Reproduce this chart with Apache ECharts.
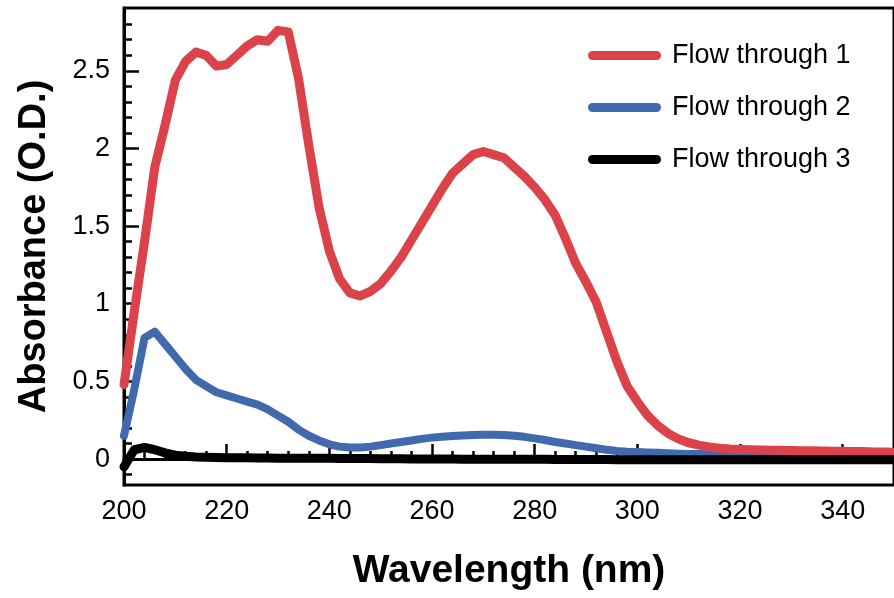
<!DOCTYPE html>
<html>
<head>
<meta charset="utf-8">
<title>Absorbance spectra of flow-through fractions</title>
<script src="https://cdn.jsdelivr.net/npm/echarts@6/dist/echarts.min.js"></script>
<style>
  html, body { margin: 0; padding: 0; background: #ffffff; }
  #chart { width: 894px; height: 598px; }
</style>
</head>
<body>
<div id="chart"></div>
<script>
// Wavelength grid (nm) shared by all three spectra
const wavelengths = [
  200, 202, 204, 206, 208, 210, 212, 214, 216, 218,
  220, 222, 224, 226, 228, 230, 232, 234, 236, 238,
  240, 242, 244, 246, 248, 250, 252, 254, 256, 258,
  260, 262, 264, 266, 268, 270, 272, 274, 276, 278,
  280, 282, 284, 286, 288, 290, 292, 294, 296, 298,
  300, 302, 304, 306, 308, 310, 312, 314, 316, 318,
  320, 322, 324, 326, 328, 330, 332, 334, 336, 338,
  340, 342, 344, 346, 348, 350
];

// Absorbance (O.D.) of each fraction
const flow1 = [
  0.48, 0.95, 1.40, 1.88, 2.15, 2.44, 2.56, 2.62, 2.60, 2.53,
  2.54, 2.60, 2.66, 2.70, 2.69, 2.76, 2.75, 2.45, 2.02, 1.62,
  1.34, 1.16, 1.07, 1.05, 1.08, 1.13, 1.21, 1.30, 1.41, 1.52,
  1.63, 1.74, 1.84, 1.90, 1.96, 1.98, 1.96, 1.94, 1.88, 1.82,
  1.75, 1.67, 1.57, 1.42, 1.26, 1.14, 1.01, 0.82, 0.63, 0.47,
  0.37, 0.28, 0.215, 0.165, 0.13, 0.105, 0.09, 0.078, 0.07, 0.065,
  0.062, 0.060, 0.058, 0.057, 0.056, 0.055, 0.054, 0.053, 0.052, 0.051,
  0.050, 0.049, 0.048, 0.046, 0.045, 0.044
];
const flow2 = [
  0.15, 0.45, 0.78, 0.82, 0.74, 0.66, 0.58, 0.51, 0.47, 0.43,
  0.41, 0.39, 0.37, 0.35, 0.32, 0.28, 0.24, 0.19, 0.15, 0.12,
  0.095, 0.08, 0.075, 0.075, 0.08, 0.09, 0.10, 0.11, 0.12, 0.13,
  0.138, 0.143, 0.148, 0.152, 0.155, 0.157, 0.157, 0.155, 0.15, 0.143,
  0.133, 0.123, 0.11, 0.10, 0.09, 0.08, 0.07, 0.06, 0.052, 0.047,
  0.045, 0.042, 0.040, 0.037, 0.035, 0.033, 0.032, 0.031, 0.030, 0.030,
  0.030, 0.030, 0.030, 0.030, 0.030, 0.030, 0.030, 0.030, 0.030, 0.030,
  0.030, 0.030, 0.030, 0.030, 0.030, 0.030
];
const flow3 = [
  -0.05, 0.06, 0.075, 0.06, 0.04, 0.025, 0.018, 0.014, 0.012, 0.010,
  0.009, 0.008, 0.008, 0.007, 0.007, 0.006, 0.006, 0.006, 0.005, 0.005,
  0.005, 0.004, 0.004, 0.003, 0.003, 0.002, 0.002, 0.002, 0.001, 0.001,
  0.000, 0.000, 0.000, -0.001, -0.001, -0.001, -0.001, -0.002, -0.002, -0.002,
  -0.002, -0.002, -0.003, -0.003, -0.003, -0.003, -0.003, -0.003, -0.004, -0.004,
  -0.004, -0.004, -0.004, -0.004, -0.004, -0.004, -0.005, -0.005, -0.005, -0.005,
  -0.005, -0.005, -0.005, -0.005, -0.005, -0.005, -0.005, -0.005, -0.005, -0.005,
  -0.005, -0.005, -0.005, -0.005, -0.005, -0.005
];

const seriesNames = ['Flow through 1', 'Flow through 2', 'Flow through 3'];
const seriesColors = ['#DB4249', '#4169AD', '#000000'];

// Axis ticks
const xMajorTicks = [200, 220, 240, 260, 280, 300, 320, 340];
const xMinorTicks = [
  204, 208, 212, 216, 224, 228, 232, 236, 244, 248, 252, 256,
  264, 268, 272, 276, 284, 288, 292, 296, 304, 308, 312, 316,
  324, 328, 332, 336, 344, 348
];
const yMajorTicks = [0, 0.5, 1, 1.5, 2, 2.5];
const yMinorTicks = [
  -0.1, 0.1, 0.2, 0.3, 0.4, 0.6, 0.7, 0.8, 0.9, 1.1, 1.2, 1.3, 1.4,
  1.6, 1.7, 1.8, 1.9, 2.1, 2.2, 2.3, 2.4, 2.6, 2.7, 2.8
];

const X_MIN = 200, X_MAX = 350;
const Y_MIN = -0.167, Y_MAX = 2.904;

const FONT = "'Liberation Sans', Arial, Helvetica, sans-serif";
const AXIS_W = 3;
const TICK_W = 2.5;

function pairs(values) {
  return wavelengths.map((w, i) => [w, values[i]]);
}

const chart = echarts.init(document.getElementById('chart'), null, { renderer: 'canvas' });

const option = {
  backgroundColor: '#ffffff',
  animation: false,
  textStyle: { fontFamily: FONT, color: '#000' },
  grid: {
    left: 124, right: -7, top: 8, bottom: 113,
    show: true, borderColor: '#000', borderWidth: AXIS_W, backgroundColor: 'transparent'
  },
  legend: {
    orient: 'vertical',
    left: 583,
    top: 37,
    itemWidth: 73,
    itemHeight: 9,
    itemGap: 25,
    icon: 'path://M4.5,0L68.5,0A4.5,4.5,0,0,1,68.5,9L4.5,9A4.5,4.5,0,0,1,4.5,0Z',
    data: seriesNames,
    textStyle: { fontFamily: FONT, fontSize: 27, color: '#000', padding: [0, 0, 0, 6] }
  },
  xAxis: [
    {
      type: 'value', min: X_MIN, max: X_MAX, position: 'bottom',
      name: 'Wavelength (nm)', nameLocation: 'middle', nameGap: 67,
      nameTextStyle: { fontFamily: FONT, fontSize: 39, fontWeight: 'bold', color: '#000' },
      axisLine: { show: true, lineStyle: { color: '#000', width: AXIS_W } },
      axisTick: { show: true, inside: true, length: 15, customValues: xMajorTicks,
                  lineStyle: { color: '#000', width: TICK_W } },
      axisLabel: { show: true, customValues: xMajorTicks, margin: 13,
                   fontFamily: FONT, fontSize: 27, color: '#000' },
      splitLine: { show: false }
    },
    {
      type: 'value', min: X_MIN, max: X_MAX, position: 'bottom',
      axisLine: { show: false },
      axisTick: { show: true, inside: true, length: 8, customValues: xMinorTicks,
                  lineStyle: { color: '#000', width: TICK_W } },
      axisLabel: { show: false },
      splitLine: { show: false }
    }
  ],
  yAxis: [
    {
      type: 'value', min: Y_MIN, max: Y_MAX, position: 'left',
      name: 'Absorbance (O.D.)', nameLocation: 'middle', nameGap: 70, nameRotate: 90,
      nameTextStyle: { fontFamily: FONT, fontSize: 38, fontWeight: 'bold', color: '#000' },
      axisLine: { show: true, lineStyle: { color: '#000', width: AXIS_W } },
      axisTick: { show: true, inside: true, length: 15, customValues: yMajorTicks,
                  lineStyle: { color: '#000', width: TICK_W } },
      axisLabel: { show: true, customValues: yMajorTicks, margin: 14,
                   fontFamily: FONT, fontSize: 27, color: '#000' },
      splitLine: { show: false }
    },
    {
      type: 'value', min: Y_MIN, max: Y_MAX, position: 'left',
      axisLine: { show: false },
      axisTick: { show: true, inside: true, length: 8, customValues: yMinorTicks,
                  lineStyle: { color: '#000', width: TICK_W } },
      axisLabel: { show: false },
      splitLine: { show: false }
    }
  ],
  series: [
    { name: seriesNames[1], data: pairs(flow2), color: seriesColors[1], z: 2, lineW: 8 },
    { name: seriesNames[0], data: pairs(flow1), color: seriesColors[0], z: 3, lineW: 9 },
    { name: seriesNames[2], data: pairs(flow3), color: seriesColors[2], z: 4, lineW: 9 }
  ].map(s => ({
    type: 'line',
    name: s.name,
    xAxisIndex: 0,
    yAxisIndex: 0,
    data: s.data,
    z: s.z,
    showSymbol: false,
    symbol: 'none',
    smooth: false,
    color: s.color,
    itemStyle: { color: s.color },
    lineStyle: { color: s.color, width: s.lineW, cap: 'round', join: 'round' }
  }))
};

chart.setOption(option);
</script>
</body>
</html>
